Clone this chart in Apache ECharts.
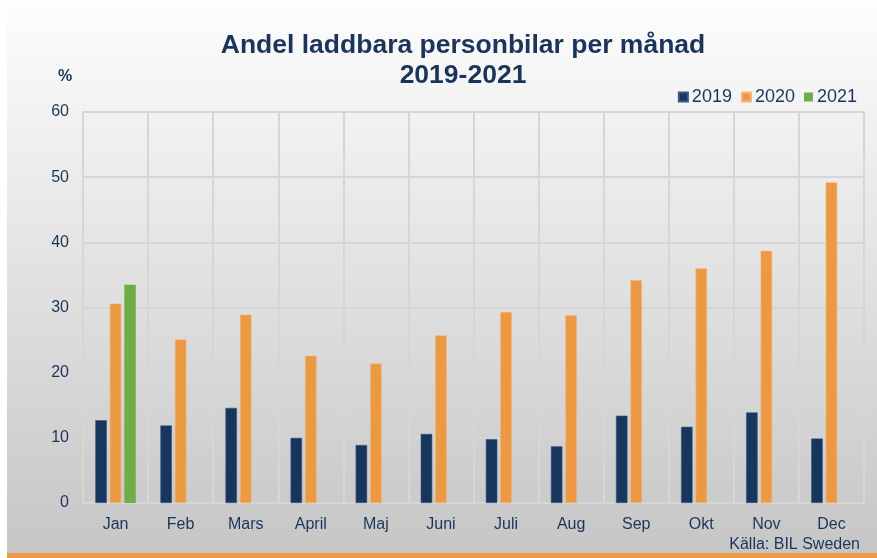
<!DOCTYPE html>
<html>
<head>
<meta charset="utf-8">
<script src="https://cdn.jsdelivr.net/npm/echarts@6/dist/echarts.min.js"></script>
<style>
html,body{margin:0;padding:0;background:#ffffff;}
#chart{width:877px;height:558px;}
</style>
</head>
<body>
<div id="chart"></div>
<script>
const months = ["Jan","Feb","Mars","April","Maj","Juni","Juli","Aug","Sep","Okt","Nov","Dec"];
const seriesNames = ["2019","2020","2021"];
const values2019 = [12.7, 11.9, 14.6, 10.0, 8.9, 10.6, 9.8, 8.7, 13.4, 11.7, 13.9, 9.9];
const values2020 = [30.6, 25.1, 28.9, 22.6, 21.4, 25.7, 29.3, 28.8, 34.2, 36.0, 38.7, 49.2];
const values2021 = [33.5, null, null, null, null, null, null, null, null, null, null, null];
const yTicks = [0, 10, 20, 30, 40, 50, 60];

const navy = "#1b355a";
const font = "Arial, 'Liberation Sans', sans-serif";
const colors = ["#17365d", "#ec9944", "#70ad47"];

const chart = echarts.init(document.getElementById('chart'), null, {renderer: 'canvas'});
chart.setOption({
  animation: false,
  backgroundColor: '#ffffff',
  graphic: [
    {type: 'rect', z: -10, shape: {x: 7, y: 0, width: 870, height: 553},
     style: {fill: new echarts.graphic.LinearGradient(0, 0, 0, 1, [
       {offset: 0, color: '#fdfdfd'}, {offset: 1, color: '#c6c6c6'}])}},
    {type: 'rect', z: -10, shape: {x: 7, y: 553, width: 870, height: 5}, style: {fill: '#ee9a45'}},
    {type: 'text', left: 58, top: 69, style: {text: '%', font: 'bold 16px ' + font, fill: navy}},
    {type: 'text', right: 17, top: 537, style: {text: 'Källa: BIL Sweden', font: '16px ' + font, fill: navy}}
  ],
  title: {
    text: 'Andel laddbara personbilar per månad\n2019-2021',
    left: 458, textAlign: 'center', top: 26,
    textStyle: {fontFamily: font, fontWeight: 'bold', fontSize: 26.5, color: navy, lineHeight: 30}
  },
  legend: {
    data: seriesNames,
    right: 15, top: 83,
    itemWidth: 9, itemHeight: 9, itemGap: 9,
    icon: 'rect',
    textStyle: {fontFamily: font, fontSize: 18, color: navy, padding: [0, 0, 0, -1]}
  },
  grid: {left: 83, right: 13, top: 112, bottom: 55, containLabel: false},
  xAxis: {
    type: 'category', data: months,
    axisTick: {show: false},
    axisLine: {lineStyle: {color: '#d6d6d6', width: 2}},
    splitLine: {show: true, lineStyle: {color: '#d6d6d6', width: 2}},
    axisLabel: {fontFamily: font, fontSize: 16, color: navy, margin: 14}
  },
  yAxis: {
    type: 'value', min: yTicks[0], max: yTicks[yTicks.length - 1], interval: 10,
    axisLine: {show: true, lineStyle: {color: '#d6d6d6', width: 2}},
    axisTick: {show: false},
    splitLine: {lineStyle: {color: '#d6d6d6', width: 2}},
    axisLabel: {fontFamily: font, fontSize: 16, color: navy, margin: 14}
  },
  series: [
    {name: seriesNames[0], type: 'bar', data: values2019, barWidth: 11.5, barGap: '26%',
     itemStyle: {color: colors[0], borderColor: '#3a5680', borderWidth: 0.6}},
    {name: seriesNames[1], type: 'bar', data: values2020, barWidth: 11.5, barGap: '26%',
     itemStyle: {color: colors[1], borderColor: '#f3b57a', borderWidth: 0.6}},
    {name: seriesNames[2], type: 'bar', data: values2021, barWidth: 11.5, barGap: '26%',
     itemStyle: {color: colors[2]}}
  ]
});
</script>
</body>
</html>
